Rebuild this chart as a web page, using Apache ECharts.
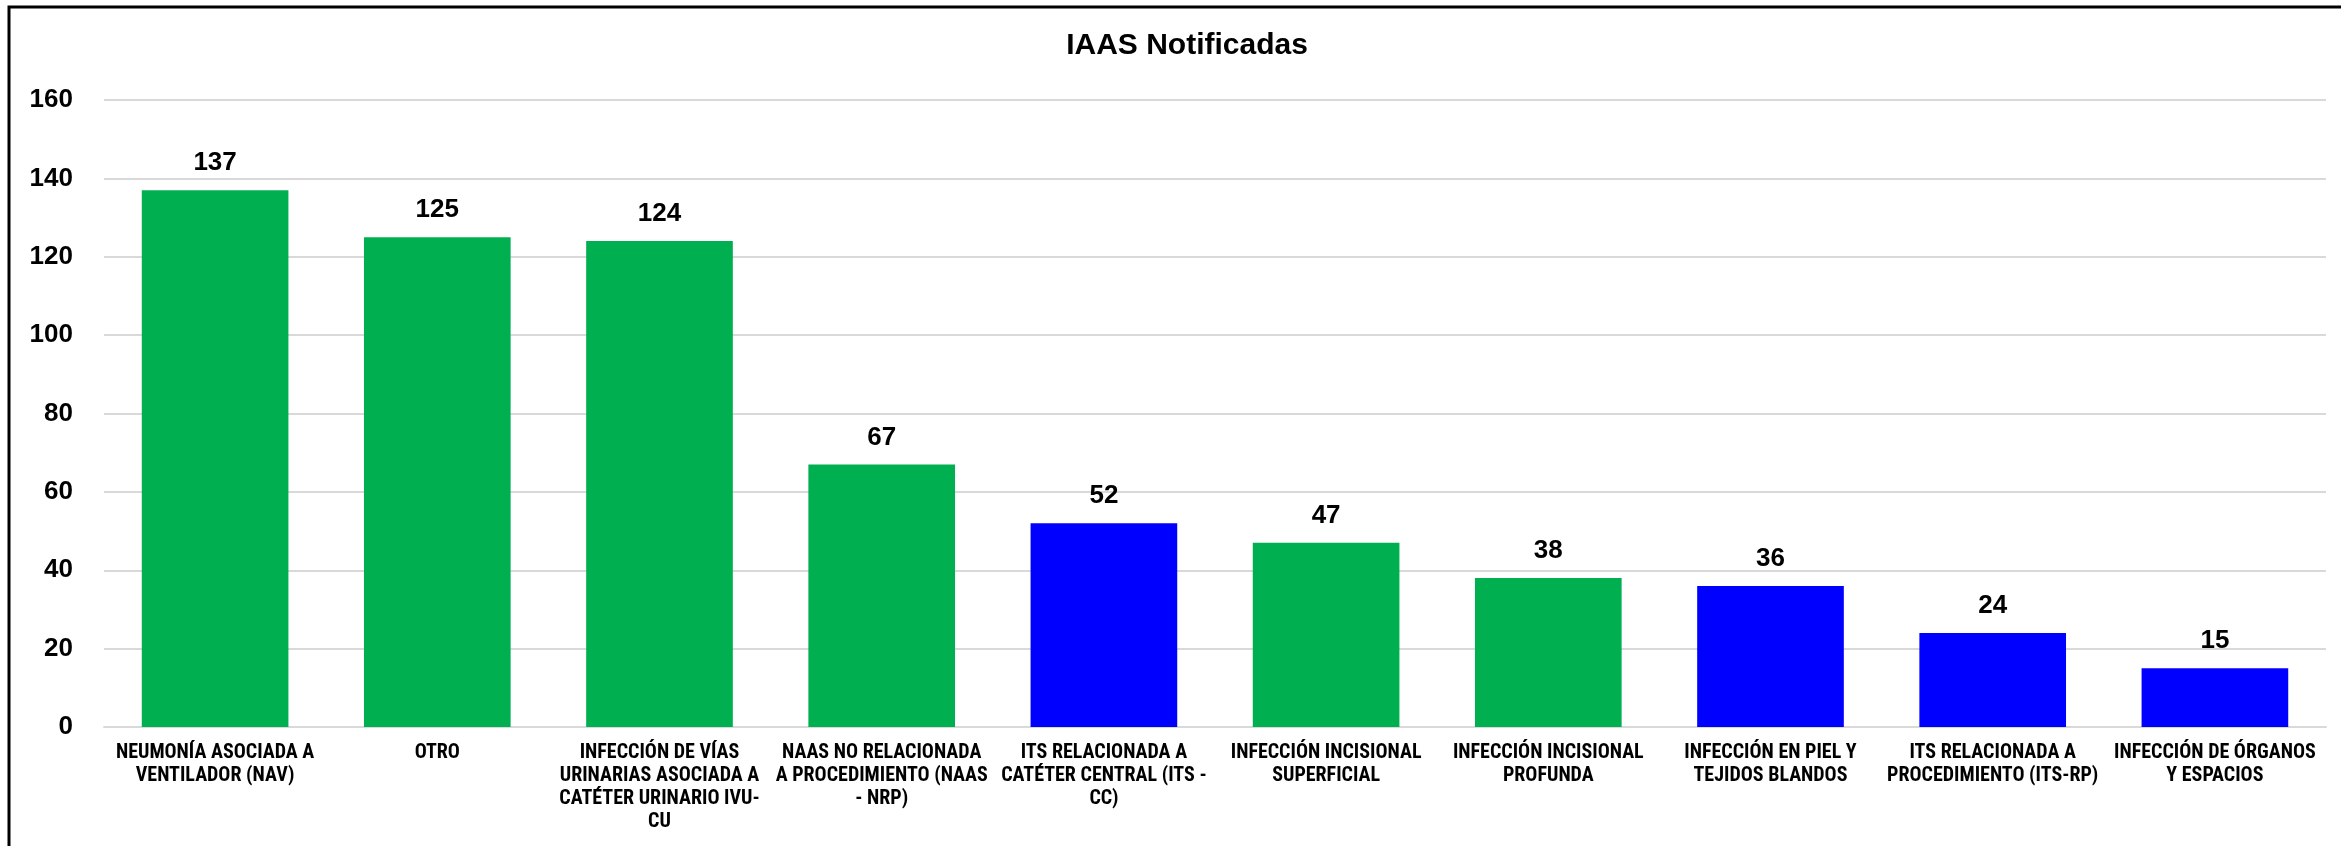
<!DOCTYPE html>
<html>
<head>
<meta charset="utf-8">
<script src="https://cdn.jsdelivr.net/npm/echarts@6/dist/echarts.min.js"></script>
<style>html,body{margin:0;padding:0;background:#fff;}#c{width:2341px;height:846px;}</style>
</head>
<body>
<div id="c"></div>
<script>
const title = 'IAAS Notificadas';
const categories = [
  'NEUMONÍA ASOCIADA A\nVENTILADOR (NAV)',
  'OTRO',
  'INFECCIÓN DE VÍAS\nURINARIAS ASOCIADA A\nCATÉTER URINARIO IVU-\nCU',
  'NAAS NO RELACIONADA\nA PROCEDIMIENTO (NAAS\n- NRP)',
  'ITS RELACIONADA A\nCATÉTER CENTRAL (ITS -\nCC)',
  'INFECCIÓN INCISIONAL\nSUPERFICIAL',
  'INFECCIÓN INCISIONAL\nPROFUNDA',
  'INFECCIÓN EN PIEL Y\nTEJIDOS BLANDOS',
  'ITS RELACIONADA A\nPROCEDIMIENTO (ITS-RP)',
  'INFECCIÓN DE ÓRGANOS\nY ESPACIOS'
];
const values = [137, 125, 124, 67, 52, 47, 38, 36, 24, 15];
const groups = ['g', 'g', 'g', 'g', 'b', 'g', 'g', 'b', 'b', 'b'];
const yTicks = [0, 20, 40, 60, 80, 100, 120, 140, 160];

const groupColor = { g: '#00B050', b: '#0000FF' };
const chart = echarts.init(document.getElementById('c'), null, { renderer: 'canvas' });
chart.setOption({
  backgroundColor: '#fff',
  animation: false,
  title: {
    text: title, left: 1182, top: 26, textAlign: 'center',
    textStyle: { fontFamily: 'Liberation Sans, Arial, sans-serif', fontWeight: 'bold', fontSize: 30, color: '#000' }
  },
  grid: { left: 104, right: 15, top: 100, bottom: 119, containLabel: false },
  xAxis: {
    type: 'category', data: categories,
    axisLine: { show: true, lineStyle: { color: '#d9d9d9', width: 2 } },
    axisTick: { show: false },
    axisLabel: {
      interval: 0, margin: 14, color: '#000', fontWeight: 'bold', fontSize: 20, lineHeight: 23,
      fontFamily: 'Roboto Condensed, Liberation Sans Narrow, Arial Narrow, Roboto, sans-serif'
    }
  },
  yAxis: {
    type: 'value', min: yTicks[0], max: yTicks[yTicks.length - 1], interval: yTicks[1] - yTicks[0],
    axisLine: { show: false }, axisTick: { show: false },
    splitLine: { lineStyle: { color: '#d9d9d9', width: 2 } },
    axisLabel: { margin: 31, color: '#000', fontWeight: 'bold', fontSize: 26, fontFamily: 'Liberation Sans, Arial, sans-serif' }
  },
  series: [{
    type: 'bar',
    data: values.map((v, i) => ({ value: v, itemStyle: { color: groupColor[groups[i]] } })),
    barCategoryGap: '34%',
    label: {
      show: true, position: 'top', distance: 14, color: '#000', fontWeight: 'bold', fontSize: 26,
      fontFamily: 'Liberation Sans, Arial, sans-serif'
    }
  }],
  graphic: [{
    type: 'rect', silent: true, z: 100,
    shape: { x: 9, y: 7, width: 2500, height: 1000 },
    style: { fill: 'none', stroke: '#000', lineWidth: 3 }
  }]
});
</script>
</body>
</html>
